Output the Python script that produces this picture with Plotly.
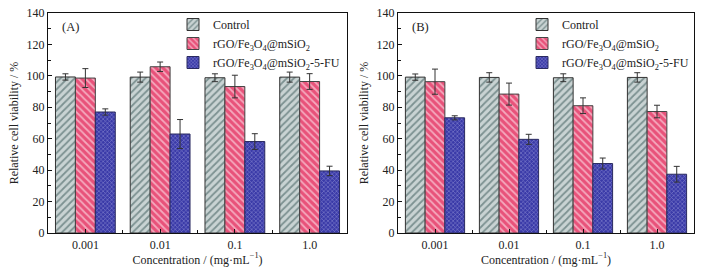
import plotly.graph_objects as go

categories = ["0.001", "0.01", "0.1", "1.0"]
series_names = ["Control",
                "rGO/Fe<sub>3</sub>O<sub>4</sub>@mSiO<sub>2</sub>",
                "rGO/Fe<sub>3</sub>O<sub>4</sub>@mSiO<sub>2</sub>-5-FU"]

# Panel A
a_control = [99.3, 99.2, 98.8, 99.2]
a_control_err = [2.0, 3.2, 2.5, 3.2]
a_composite = [98.6, 105.8, 93.2, 96.4]
a_composite_err = [6.0, 3.0, 7.2, 5.0]
a_fu = [77.0, 63.0, 58.2, 39.5]
a_fu_err = [2.0, 9.2, 5.0, 3.0]

# Panel B
b_control = [99.2, 99.0, 98.8, 99.0]
b_control_err = [2.0, 3.0, 2.5, 3.0]
b_composite = [96.3, 88.4, 81.0, 77.3]
b_composite_err = [8.0, 7.0, 5.0, 4.0]
b_fu = [73.3, 59.6, 44.2, 37.4]
b_fu_err = [1.3, 3.2, 3.5, 5.0]

FONT = "Liberation Serif, Times New Roman, serif"
W, H = 705, 268
ML, MR, MT, MB = 48, 11, 13, 35
PW, PH = W - ML - MR, H - MT - MB


def px_x(px):
    return (px - ML) / PW


def px_y(py):
    return 1 - (py - MT) / PH


xs = list(range(len(categories)))

styles = [
    dict(shape="/", fg="#2f4f4f", bg="#c9d3d3", line="#333333", size=5),
    dict(shape="\\", fg="#ffffff", bg="#e8527a", line="#444444", size=5),
    dict(shape="x", fg="#c8c8f0", bg="#3a3aa8", line="#2a2a60", size=3),
]

fig = go.Figure()

panels = [
    ("x", "y", "legend", [a_control, a_composite, a_fu], [a_control_err, a_composite_err, a_fu_err]),
    ("x2", "y2", "legend2", [b_control, b_composite, b_fu], [b_control_err, b_composite_err, b_fu_err]),
]

for xa, ya, lg, vals, errs in panels:
    for i, (name, v, e, st) in enumerate(zip(series_names, vals, errs, styles)):
        fig.add_trace(go.Bar(
            x=xs, y=v, name=name, xaxis=xa, yaxis=ya, legend=lg,
            offsetgroup=str(i),
            marker=dict(color=st["bg"],
                        line=dict(color=st["line"], width=1),
                        pattern=dict(shape=st["shape"], fgcolor=st["fg"], bgcolor=st["bg"],
                                     size=st["size"], solidity=0.35, fillmode="overlay")),
            error_y=dict(type="data", array=e, visible=True, color="#333333",
                         thickness=1, width=3),
        ))

axis_common = dict(showline=True, linecolor="#111111", linewidth=1.2, mirror=True,
                   ticks="inside", ticklen=4, tickcolor="#111111", automargin=False,
                   tickfont=dict(family=FONT, size=12, color="#222222"), showgrid=False,
                   zeroline=False)

for k, dom in (("", [px_x(48), px_x(347)]), ("2", [px_x(398), px_x(694)])):
    fig.update_layout(**{
        "xaxis" + k: dict(domain=dom, range=[-0.5, 3.5], tickvals=xs, ticktext=categories,
                          anchor="y" + k,
                          minor=dict(tickvals=[0.5, 1.5, 2.5], ticks="inside", ticklen=3,
                                     tickcolor="#111111"),
                          title=dict(text="Concentration / (mg·mL<sup>−1</sup>)",
                                     font=dict(family=FONT, size=12, color="#222222"),
                                     standoff=1),
                          **axis_common),
        "yaxis" + k: dict(domain=[0, 1], range=[0, 140], dtick=20, anchor="x" + k,
                          minor=dict(dtick=10, ticks="inside", ticklen=2.5, tickcolor="#111111"),
                          title=dict(text="Relative cell viability / %",
                                     font=dict(family=FONT, size=12, color="#222222"),
                                     standoff=5),
                          **axis_common),
    })

legend_common = dict(font=dict(family=FONT, size=12, color="#222222"),
                     bgcolor="rgba(0,0,0,0)", xanchor="left", yanchor="top",
                     tracegroupgap=2, itemwidth=30)
fig.update_layout(
    legend=dict(x=px_x(173), y=px_y(10), **legend_common),
    legend2=dict(x=px_x(522), y=px_y(10), **legend_common),
)

for lbl, xpx in (("(A)", 60), ("(B)", 410)):
    fig.add_annotation(text=lbl, x=px_x(xpx), y=px_y(27), xref="paper", yref="paper",
                       xanchor="left", yanchor="middle", showarrow=False,
                       font=dict(family=FONT, size=12.5, color="#222222"))

fig.update_layout(
    width=W, height=H, margin=dict(l=ML, r=MR, t=MT, b=MB, autoexpand=False),
    barmode="group", bargap=0.2, bargroupgap=0,
    paper_bgcolor="white", plot_bgcolor="white",
    showlegend=True,
)

fig.write_html("out.html", config={"displayModeBar": False},
               post_script="document.body.style.margin='0';document.body.style.overflow='hidden';")
